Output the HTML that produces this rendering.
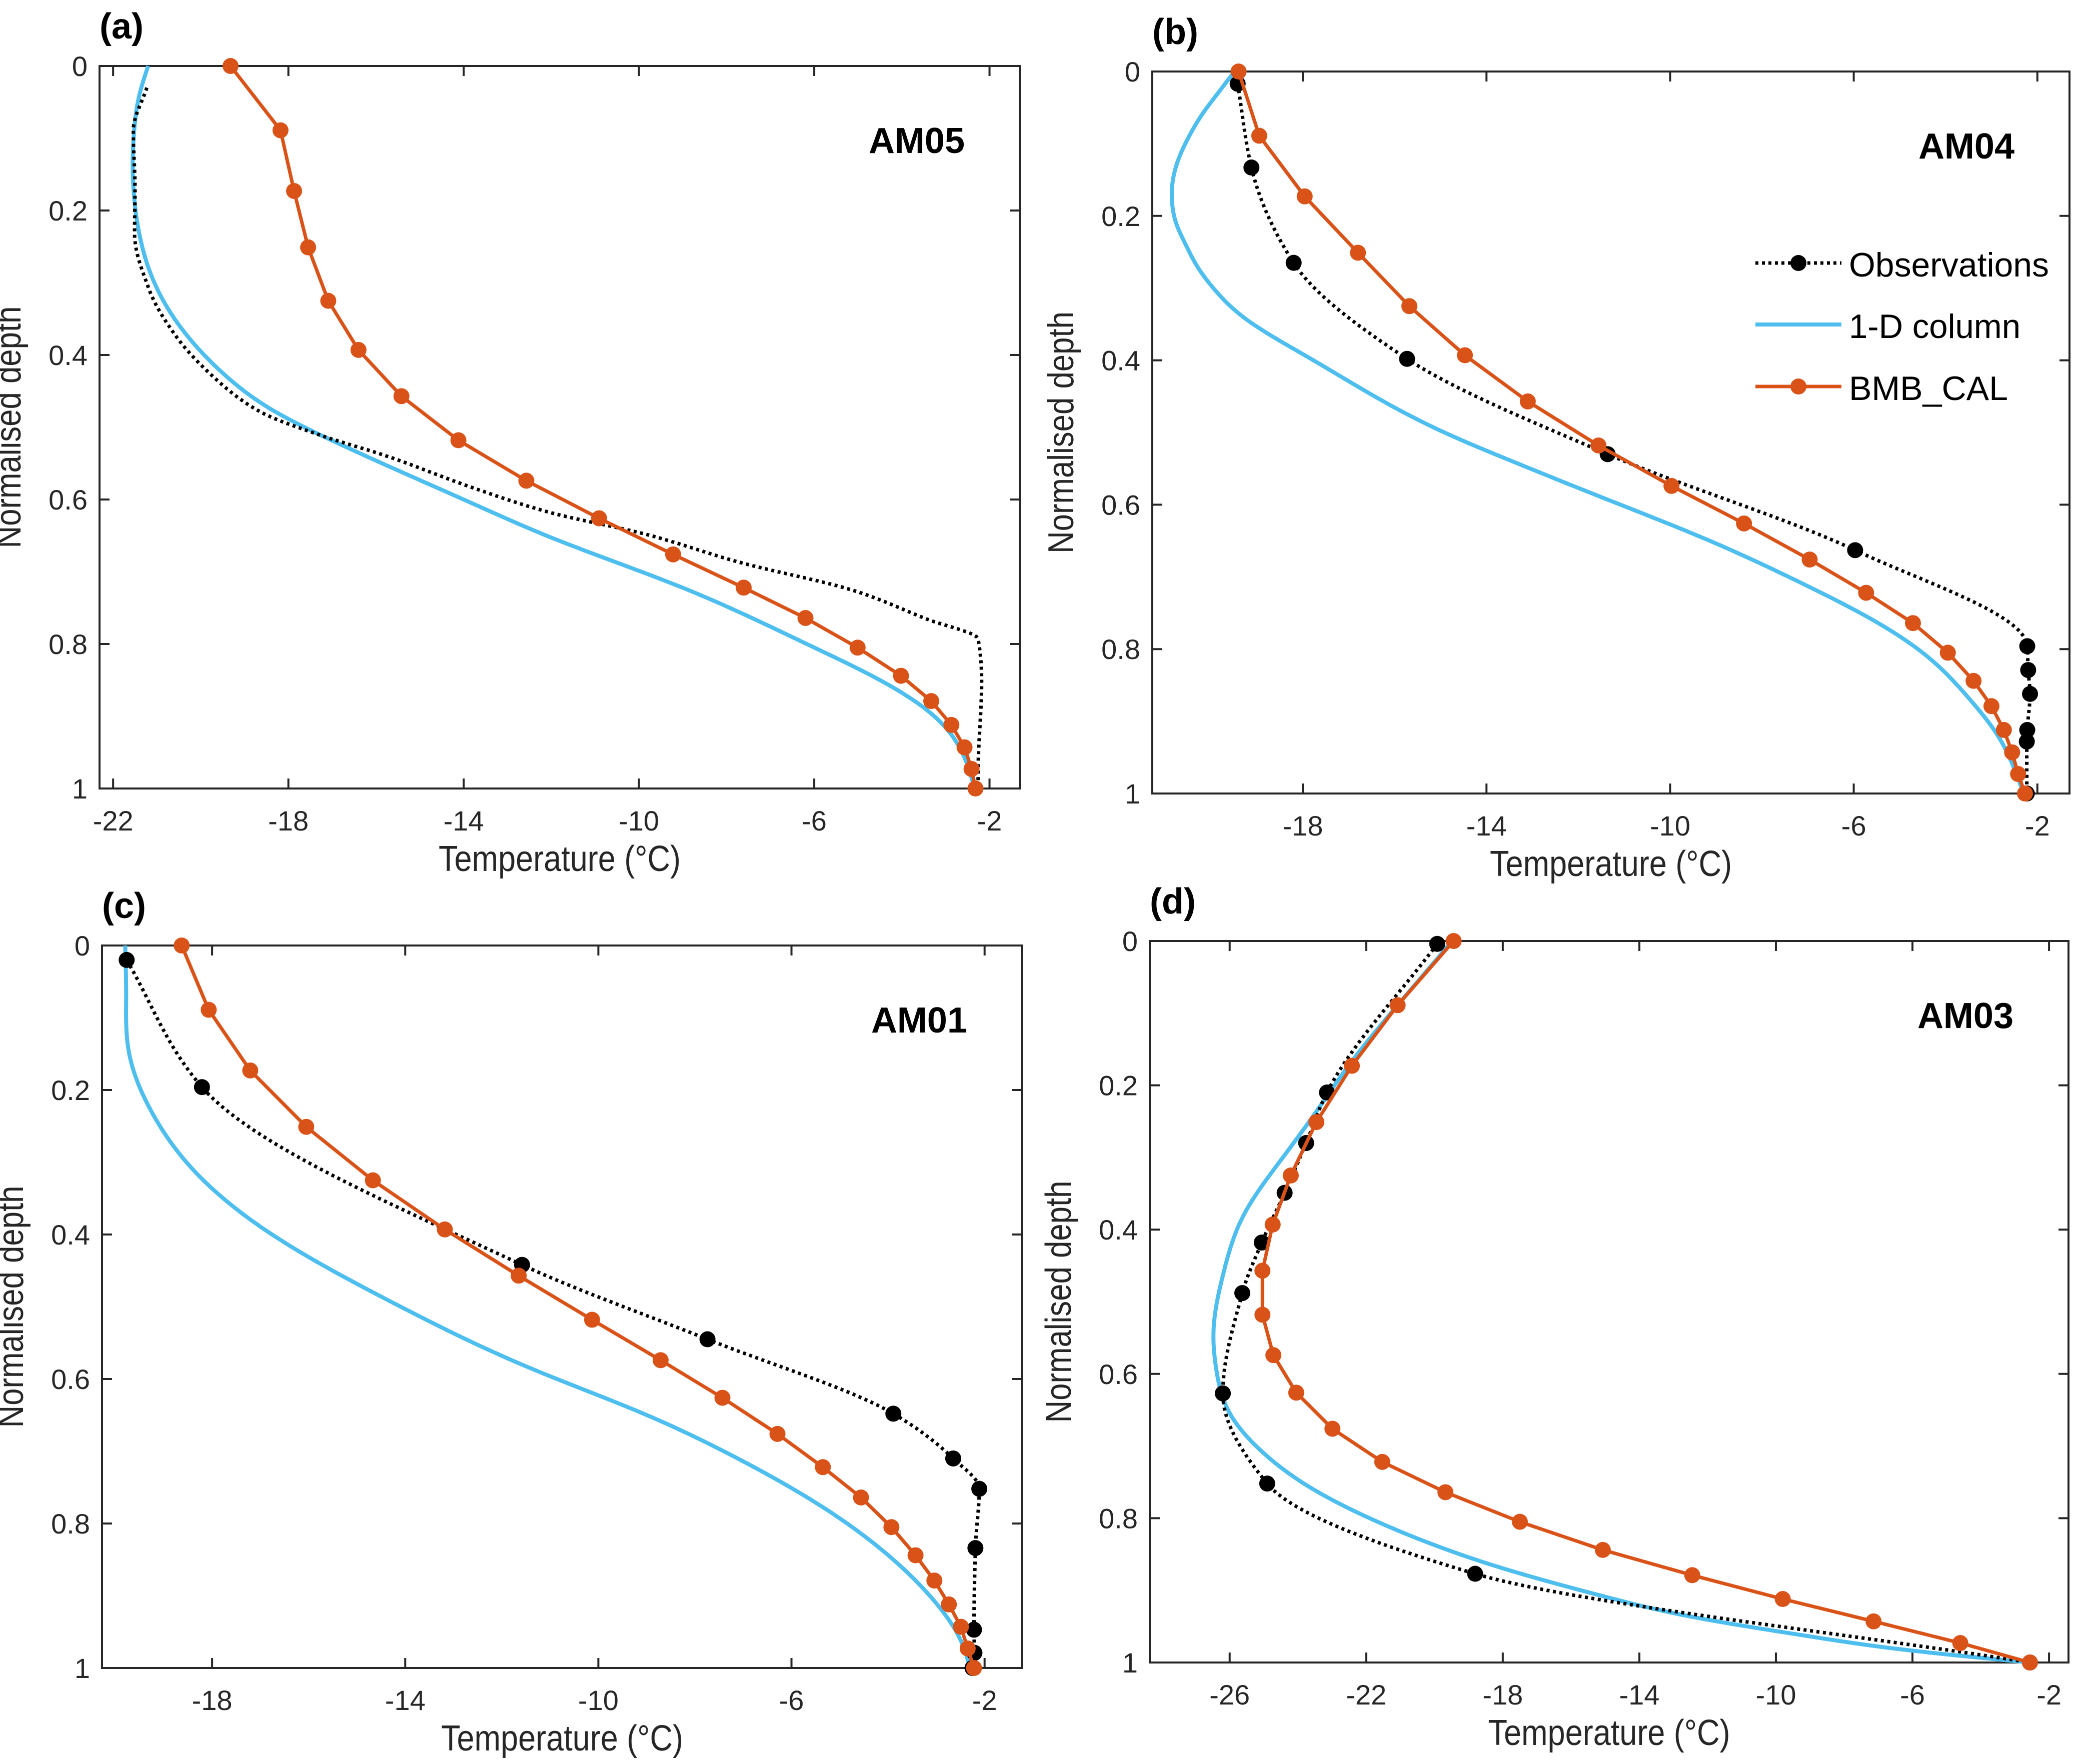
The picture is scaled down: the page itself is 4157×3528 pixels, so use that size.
<!DOCTYPE html>
<html><head><meta charset="utf-8"><style>
html,body{margin:0;padding:0;background:#fff;}
svg{display:block;}
text{font-family:"Liberation Sans",Arial,sans-serif;}
</style></head><body>
<svg id="fig" width="4157" height="3528" viewBox="0 0 4157 3528" xmlns="http://www.w3.org/2000/svg"></svg>
<script>
// ---- shared data ----
const depthTicks = [0, 0.2, 0.4, 0.6, 0.8, 1];
const depthTickLabels = ["0", "0.2", "0.4", "0.6", "0.8", "1"];
const bmbDepth = [0, 0.089, 0.173, 0.251, 0.325, 0.393, 0.457, 0.518, 0.574, 0.626, 0.676, 0.722, 0.764, 0.805, 0.844, 0.879, 0.912, 0.943, 0.973, 1.0];

// ---- panel (a) AM05 ----
const aXTicks = [-22, -18, -14, -10, -6, -2];
const aBmbTemp = [-19.32, -18.18, -17.87, -17.55, -17.09, -16.40, -15.42, -14.12, -12.57, -10.91, -9.22, -7.61, -6.20, -5.01, -4.02, -3.33, -2.87, -2.57, -2.41, -2.32];
const aColDepth = [0, 0.04, 0.09, 0.15, 0.216, 0.309, 0.371, 0.426, 0.476, 0.513, 0.553, 0.606, 0.652, 0.72, 0.80, 0.85, 0.90, 0.947, 1.0];
const aColTemp = [-21.2, -21.4, -21.52, -21.55, -21.45, -20.99, -20.34, -19.48, -18.37, -17.19, -15.75, -13.78, -12.03, -9.09, -6.17, -4.5, -3.26, -2.65, -2.34];
const aObsDepth = [0.03, 0.09, 0.17, 0.232, 0.309, 0.371, 0.432, 0.479, 0.510, 0.540, 0.584, 0.618, 0.648, 0.687, 0.726, 0.766, 0.793, 0.852, 0.978, 1.0];
const aObsTemp = [-21.23, -21.54, -21.5, -21.51, -21.18, -20.60, -19.68, -18.63, -17.32, -15.75, -13.78, -12.03, -9.85, -7.7, -5.1, -3.41, -2.26, -2.18, -2.26, -2.26];

// ---- panel (b) AM04 ----
const bXTicks = [-18, -14, -10, -6, -2];
const bBmbTemp = [-19.40, -18.95, -17.96, -16.80, -15.68, -14.47, -13.10, -11.56, -9.97, -8.39, -6.96, -5.73, -4.71, -3.95, -3.39, -3.00, -2.73, -2.55, -2.42, -2.27];
const bObsDepth = [0.017, 0.133, 0.265, 0.398, 0.530, 0.663, 0.796, 0.829, 0.862, 0.912, 0.928, 1.0];
const bObsTemp = [-19.42, -19.12, -18.20, -15.73, -11.36, -5.97, -2.22, -2.20, -2.16, -2.22, -2.23, -2.23];
const bColDepth = [0, 0.03, 0.06, 0.09, 0.12, 0.15, 0.18, 0.21, 0.24, 0.27, 0.30, 0.34, 0.397, 0.452, 0.499, 0.538, 0.593, 0.648, 0.711, 0.758, 0.806, 0.869, 0.916, 0.971, 1.0];
const bColTemp = [-19.49, -19.85, -20.2, -20.48, -20.70, -20.83, -20.85, -20.76, -20.55, -20.3, -19.95, -19.3, -17.85, -16.38, -14.95, -13.51, -11.36, -9.21, -7.06, -5.63, -4.48, -3.48, -2.9, -2.47, -2.3];

// ---- panel (c) AM01 ----
const cXTicks = [-18, -14, -10, -6, -2];
const cBmbTemp = [-18.63, -18.07, -17.21, -16.05, -14.67, -13.18, -11.65, -10.13, -8.71, -7.43, -6.29, -5.35, -4.56, -3.93, -3.43, -3.04, -2.74, -2.49, -2.35, -2.22];
const cObsDepth = [0.020, 0.196, 0.442, 0.545, 0.648, 0.710, 0.752, 0.834, 0.947, 0.979, 1.0];
const cObsTemp = [-19.77, -18.21, -11.58, -7.74, -3.89, -2.65, -2.11, -2.19, -2.22, -2.21, -2.25];
const cColDepth = [0, 0.07, 0.145, 0.233, 0.321, 0.409, 0.497, 0.588, 0.647, 0.707, 0.78, 0.842, 0.905, 0.961, 1.0];
const cColTemp = [-19.8, -19.78, -19.73, -19.23, -18.24, -16.55, -14.18, -11.3, -9.10, -7.20, -5.29, -4.03, -3.07, -2.50, -2.3];

// ---- panel (d) AM03 ----
const dXTicks = [-26, -22, -18, -14, -10, -6, -2];
const dBmbTemp = [-19.44, -21.08, -22.42, -23.46, -24.21, -24.74, -25.04, -25.04, -24.72, -24.05, -22.99, -21.53, -19.68, -17.50, -15.07, -12.45, -9.80, -7.14, -4.60, -2.56];
const dObsDepth = [0.004, 0.210, 0.280, 0.349, 0.418, 0.488, 0.627, 0.752, 0.877, 1.0];
const dObsTemp = [-19.92, -23.15, -23.76, -24.39, -25.06, -25.63, -26.20, -24.90, -18.81, -2.56];
const dColDepth = [0, 0.09, 0.168, 0.247, 0.31, 0.38, 0.46, 0.538, 0.6, 0.656, 0.71, 0.758, 0.797, 0.836, 0.868, 0.907, 0.939, 0.962, 0.982, 1.0];
const dColTemp = [-19.48, -21.1, -22.44, -23.62, -24.6, -25.59, -26.18, -26.47, -26.37, -25.98, -25.0, -23.62, -22.04, -20.07, -18.1, -15.15, -12.2, -9.25, -6.3, -2.56];

const NS = "http://www.w3.org/2000/svg";
const svg = document.getElementById("fig");
const BLUE = "#4DBEEE", ORANGE = "#D95319", AX = "#262626";

function mk(tag, attrs, parent) {
  const e = document.createElementNS(NS, tag);
  for (const k in attrs) e.setAttribute(k, attrs[k]);
  (parent || svg).appendChild(e);
  return e;
}
// natural cubic spline T(d)
function naturalSpline(x, y) {
  const n = x.length;
  const h = [], al = [], l = [1], mu = [0], z = [0], c = new Array(n).fill(0), b = [], dd = [];
  for (let i = 0; i < n - 1; i++) h.push(x[i + 1] - x[i]);
  for (let i = 1; i < n - 1; i++) al[i] = 3 / h[i] * (y[i + 1] - y[i]) - 3 / h[i - 1] * (y[i] - y[i - 1]);
  for (let i = 1; i < n - 1; i++) {
    l[i] = 2 * (x[i + 1] - x[i - 1]) - h[i - 1] * mu[i - 1];
    mu[i] = h[i] / l[i];
    z[i] = (al[i] - h[i - 1] * z[i - 1]) / l[i];
  }
  for (let j = n - 2; j >= 0; j--) {
    c[j] = (j === 0 ? 0 : z[j] - mu[j] * c[j + 1]);
    b[j] = (y[j + 1] - y[j]) / h[j] - h[j] * (c[j + 1] + 2 * c[j]) / 3;
    dd[j] = (c[j + 1] - c[j]) / (3 * h[j]);
  }
  return t => {
    let i = 0;
    while (i < n - 2 && t > x[i + 1]) i++;
    const u = t - x[i];
    return y[i] + b[i] * u + c[i] * u * u + dd[i] * u * u * u;
  };
}
// PCHIP T(d)
function pchip(x, y) {
  const n = x.length, h = [], del = [], m = new Array(n);
  for (let i = 0; i < n - 1; i++) { h.push(x[i + 1] - x[i]); del.push((y[i + 1] - y[i]) / h[i]); }
  m[0] = del[0]; m[n - 1] = del[n - 2];
  for (let i = 1; i < n - 1; i++) {
    if (del[i - 1] * del[i] <= 0) m[i] = 0;
    else {
      const w1 = 2 * h[i] + h[i - 1], w2 = h[i] + 2 * h[i - 1];
      m[i] = (w1 + w2) / (w1 / del[i - 1] + w2 / del[i]);
    }
  }
  return t => {
    let i = 0;
    while (i < n - 2 && t > x[i + 1]) i++;
    const s = (t - x[i]) / h[i];
    const h00 = 2 * s * s * s - 3 * s * s + 1, h10 = s * s * s - 2 * s * s + s, h01 = -2 * s * s * s + 3 * s * s, h11 = s * s * s - s * s;
    return h00 * y[i] + h10 * h[i] * m[i] + h01 * y[i + 1] + h11 * h[i] * m[i + 1];
  };
}
function sampledPath(f, d0, d1, xs, ys) {
  let s = "";
  const N = 300;
  for (let k = 0; k <= N; k++) {
    const d = d0 + (d1 - d0) * k / N;
    s += (k ? " L" : "M") + xs(f(d)).toFixed(1) + "," + ys(d).toFixed(1);
  }
  return s;
}

function drawPanel(p) {
  const g = mk("g", {});
  
  
  const xs = t => p.x0 + (t - p.xmin) / (p.xmax - p.xmin) * (p.x1 - p.x0);
  const ys = d => p.y0 + d * (p.y1 - p.y0);
  const clipId = "clip" + p.id;
  const cp = mk("clipPath", { id: clipId }, g);
  mk("rect", { x: p.x0 - 20, y: p.y0 - 20, width: p.x1 - p.x0 + 40, height: p.y1 - p.y0 + 40 }, cp);

  const tl = 20;
  p.xTicks.forEach((t, i) => {
    const x = xs(t);
    const a = mk("line", { x1: x, y1: p.y1, x2: x, y2: p.y1 - tl, stroke: AX, "stroke-width": 4 }, g);
    
    
    mk("line", { x1: x, y1: p.y0, x2: x, y2: p.y0 + tl, stroke: AX, "stroke-width": 4 }, g);
    const lab = mk("text", { x: x, y: p.y1 + 84, "text-anchor": "middle", "font-size": 56, fill: AX }, g);
    lab.textContent = String(t);
    
    
  });
  depthTicks.forEach((d, i) => {
    const y = ys(d);
    mk("line", { x1: p.x0, y1: y, x2: p.x0 + tl, y2: y, stroke: AX, "stroke-width": 4 }, g);
    mk("line", { x1: p.x1, y1: y, x2: p.x1 - tl, y2: y, stroke: AX, "stroke-width": 4 }, g);
    const lab = mk("text", { x: p.x0 - 24, y: y + 20, "text-anchor": "end", "font-size": 56, fill: AX }, g);
    lab.textContent = depthTickLabels[i];
    
    
  });
  const box = mk("rect", { x: p.x0, y: p.y0, width: p.x1 - p.x0, height: p.y1 - p.y0, fill: "none", stroke: AX, "stroke-width": 4 }, g);
  
  

  const xl = mk("text", { x: (p.x0 + p.x1) / 2, y: p.y1 + 165, "text-anchor": "middle", "font-size": 72, fill: AX, textLength: 484, lengthAdjust: "spacingAndGlyphs" }, g);
  xl.textContent = "Temperature (°C)";
  
  
  const cy = (p.y0 + p.y1) / 2, cx = p.x0 - 158;
  const yl = mk("text", { x: cx, y: cy, "text-anchor": "middle", "font-size": 72, fill: AX, transform: "rotate(-90 " + cx + " " + cy + ")", textLength: 484, lengthAdjust: "spacingAndGlyphs" }, g);
  yl.textContent = "Normalised depth";
  
  
  const pl = mk("text", { x: p.x0, y: p.y0 - 55, "font-size": 72, "font-weight": "bold", fill: "#000" }, g);
  pl.textContent = "(" + p.id + ")";
  
  
  const st = mk("text", { x: p.x1 - 110, y: p.y0 + 174, "text-anchor": "end", "font-size": 72, "font-weight": "bold", fill: "#000" }, g);
  st.textContent = p.site;
  
  

  const sg = mk("g", { "clip-path": "url(#" + clipId + ")" }, g);
  const colF = naturalSpline(p.colD, p.colT);
  const col = mk("path", { d: sampledPath(colF, p.colD[0], p.colD[p.colD.length - 1], xs, ys), fill: "none", stroke: BLUE, "stroke-width": 8, "stroke-linejoin": "round" }, sg);
  
  
  const obsF = pchip(p.obsD, p.obsT);
  const obs = mk("path", { d: sampledPath(obsF, p.obsD[0], p.obsD[p.obsD.length - 1], xs, ys), fill: "none", stroke: "#000", "stroke-width": 7, "stroke-dasharray": "6 7" }, sg);
  
  
  if (p.obsMarkers) {
    p.obsT.forEach((t, i) => {
      const c = mk("circle", { cx: xs(t), cy: ys(p.obsD[i]), r: 16, fill: "#000" }, sg);
      
      
    });
  }
  const bPts = p.bmbT.map((t, i) => [xs(t), ys(bmbDepth[i])]);
  const bl = mk("polyline", { points: bPts.map(q => q[0].toFixed(1) + "," + q[1].toFixed(1)).join(" "), fill: "none", stroke: ORANGE, "stroke-width": 7, "stroke-linejoin": "round" }, sg);
  
  
  bPts.forEach(pt => {
    const c = mk("circle", { cx: pt[0], cy: pt[1], r: 16, fill: ORANGE }, sg);
    
    
  });
}

drawPanel({ id: "a", site: "AM05", x0: 199, x1: 2039, y0: 132, y1: 1577, xmin: -22.31, xmax: -1.31, xTicks: aXTicks,
  bmbT: aBmbTemp, colT: aColTemp, colD: aColDepth, obsT: aObsTemp, obsD: aObsDepth, obsMarkers: false });
drawPanel({ id: "b", site: "AM04", x0: 2304, x1: 4138, y0: 143, y1: 1587, xmin: -21.28, xmax: -1.30, xTicks: bXTicks,
  bmbT: bBmbTemp, colT: bColTemp, colD: bColDepth, obsT: bObsTemp, obsD: bObsDepth, obsMarkers: true });
drawPanel({ id: "c", site: "AM01", x0: 204, x1: 2044, y0: 1891, y1: 3336, xmin: -20.28, xmax: -1.22, xTicks: cXTicks,
  bmbT: cBmbTemp, colT: cColTemp, colD: cColDepth, obsT: cObsTemp, obsD: cObsDepth, obsMarkers: true });
drawPanel({ id: "d", site: "AM03", x0: 2299, x1: 4136, y0: 1882, y1: 3325, xmin: -28.34, xmax: -1.43, xTicks: dXTicks,
  bmbT: dBmbTemp, colT: dColTemp, colD: dColDepth, obsT: dObsTemp, obsD: dObsDepth, obsMarkers: true });

const lg = mk("g", {});


const legRows = [526, 649, 773];
const e1 = mk("g", {}, lg);


mk("line", { x1: 3510, y1: legRows[0], x2: 3682, y2: legRows[0], stroke: "#000", "stroke-width": 7, "stroke-dasharray": "6 7" }, e1);
mk("circle", { cx: 3596, cy: legRows[0], r: 16, fill: "#000" }, e1);
const t1 = mk("text", { x: 3697, y: legRows[0] + 27, "font-size": 68, fill: "#000", textLength: 400, lengthAdjust: "spacingAndGlyphs" }, e1);
t1.textContent = "Observations";
const e2 = mk("g", {}, lg);


mk("line", { x1: 3510, y1: legRows[1], x2: 3682, y2: legRows[1], stroke: BLUE, "stroke-width": 8 }, e2);
const t2 = mk("text", { x: 3697, y: legRows[1] + 27, "font-size": 68, fill: "#000", textLength: 343, lengthAdjust: "spacingAndGlyphs" }, e2);
t2.textContent = "1-D column";
const e3 = mk("g", {}, lg);


mk("line", { x1: 3510, y1: legRows[2], x2: 3682, y2: legRows[2], stroke: ORANGE, "stroke-width": 7 }, e3);
mk("circle", { cx: 3596, cy: legRows[2], r: 16, fill: ORANGE }, e3);
const t3 = mk("text", { x: 3697, y: legRows[2] + 27, "font-size": 68, fill: "#000", textLength: 318, lengthAdjust: "spacingAndGlyphs" }, e3);
t3.textContent = "BMB_CAL";
</script>
</body></html>
